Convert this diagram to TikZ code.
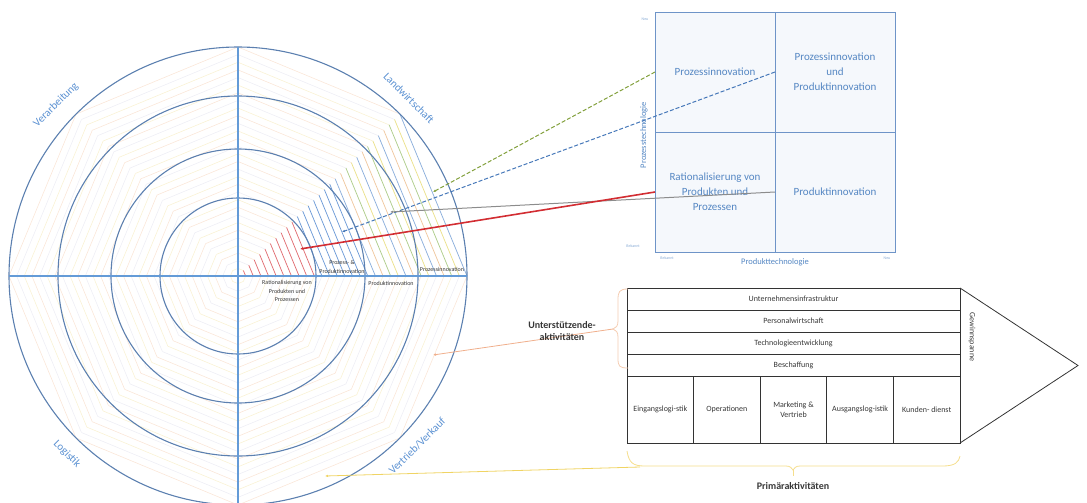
\documentclass[tikz,border=0pt]{standalone}
\usepackage{fontspec}
\setmainfont{Carlito}
\usetikzlibrary{arrows.meta}

\definecolor{ringblue}{RGB}{92,128,176}
\definecolor{axisblue}{RGB}{100,155,215}
\definecolor{labelblue}{RGB}{91,145,210}
\definecolor{matblue}{RGB}{110,148,200}
\definecolor{mattext}{RGB}{85,135,195}
\definecolor{matfill}{RGB}{245,248,252}
\definecolor{faint0}{RGB}{250,230,216}
\definecolor{faint1}{RGB}{249,242,212}
\definecolor{faint2}{RGB}{238,238,245}
\definecolor{hotred}{RGB}{225,110,115}
\definecolor{hotblue}{RGB}{110,155,215}
\definecolor{hot0}{RGB}{175,205,140}
\definecolor{hot1}{RGB}{235,225,140}
\definecolor{hot2}{RGB}{140,175,220}
\definecolor{hot3}{RGB}{240,200,160}
\definecolor{arrgreen}{RGB}{130,160,60}
\definecolor{arrblue}{RGB}{70,120,185}
\definecolor{arrgray}{RGB}{140,140,140}
\definecolor{arrred}{RGB}{210,45,50}
\definecolor{bracepeach}{RGB}{245,205,178}
\definecolor{braceyellow}{RGB}{245,222,140}
\definecolor{linkorange}{RGB}{240,175,140}
\definecolor{linkyellow}{RGB}{240,212,100}
\definecolor{chaintext}{RGB}{55,55,55}

\tikzset{
  ring/.style={ringblue, line width=1.1pt},
  axis/.style={axisblue, line width=1.2pt},
  sector/.style={text=labelblue, font=\fontsize{11}{13}\selectfont, inner sep=0pt},
  innerlabel/.style={text=chaintext, font=\fontsize{6}{8.5}\selectfont, align=center, inner sep=0pt},
  cell/.style={draw=matblue, fill=matfill, line width=0.9pt, minimum width=120pt, minimum height=120pt,
    inner sep=0pt, outer sep=0pt, text=mattext, align=center, font=\fontsize{11}{15}\selectfont},
  tiny/.style={text=mattext!70, font=\fontsize{4}{5}\selectfont, inner sep=0pt},
  axislabel/.style={text=mattext, font=\fontsize{8.5}{10}\selectfont, inner sep=0pt},
  link/.style={line width=1pt, -{Latex[length=3pt,width=2.6pt]}},
  supportrow/.style={draw=black!80, line width=0.8pt, minimum width=333pt, minimum height=22pt,
    inner sep=0pt, outer sep=0pt, text=chaintext, font=\fontsize{8}{10}\selectfont},
  primcell/.style={draw=black!80, line width=0.8pt, minimum width=66.6pt, minimum height=67pt,
    inner sep=0pt, outer sep=0pt, text=chaintext, align=center, font=\fontsize{8}{10}\selectfont},
  bracetitle/.style={text=chaintext, font=\bfseries\fontsize{10}{12}\selectfont, align=center, inner sep=0pt}
}

\begin{document}
\begin{tikzpicture}[x=1pt,y=1pt]
\useasboundingbox (0,0) rectangle (1087,-503);

% ---------- spider web ----------
\coordinate (C) at (238,-276);
\begin{scope}[shift={(238,-276)}]
  % faint concentric octagons
  \foreach \k in {1,...,30}{
    \pgfmathsetmacro\r{\k*229/30}
    \pgfmathtruncatemacro\m{mod(\k,3)}
    \foreach \a in {45,90,...,315}{
      \draw[faint\m, line width=0.6pt] (\a:\r) -- (\a+45:\r);
    }
  }
  % highlighted segment between 0 and 45 degrees
  \foreach \k in {1,...,30}{
    \pgfmathsetmacro\r{\k*229/30}
    \pgfmathtruncatemacro\m{mod(\k,4)}
    \ifnum\k<11 \def\hc{hotred}\else\ifnum\k<18 \def\hc{hotblue}\else\edef\hc{hot\m}\fi\fi
    \draw[\hc, line width=0.75pt] (0:\r) -- (45:\r);
  }
\end{scope}

\foreach \rad in {78,127,180,229}
  \draw[ring] (C) circle[radius=\rad];

\coordinate (axW) at (9,-276);
\coordinate (axE) at (467,-276);
\coordinate (axN) at (238,-47);
\coordinate (axS) at (238,-506);
\draw[axis] (axW) -- (axE);
\draw[axis] (axN) -- (axS);

% sector names
\node[sector, rotate=45]  (verarb) at (56,-105)  {Verarbeitung};
\node[sector, rotate=-45] (landw)  at (409,-98)  {Landwirtschaft};
\node[sector, rotate=-45] (logist) at (67,-454)  {Logistik};
\node[sector, rotate=45]  (vertr)  at (417,-446) {Vertrieb/Verkauf};

% ring labels
\node[innerlabel] (lrat)  at (287,-291) {Rationalisierung von\\Produkten und\\Prozessen};
\node[innerlabel] (lpp)   at (342,-267) {Prozess- \&\\Produktinnovation};
\node[innerlabel] (lprod) at (391,-283) {Produktinnovation};
\node[innerlabel] (lproz) at (442,-269) {Prozessinnovation};

% ---------- portfolio matrix ----------
\node[cell] (tl) at (715,-72)  {Prozessinnovation};
\node[cell] (tr) at (835,-72)  {Prozessinnovation\\und\\Produktinnovation};
\node[cell] (bl) at (715,-192) {Rationalisierung von\\Produkten und\\Prozessen};
\node[cell] (br) at (835,-192) {Produktinnovation};

\node[axislabel, rotate=90] (yax) at (644,-135) {Prozesstechnologie};
\node[axislabel] (xax) at (775,-262) {Produkttechnologie};
\node[tiny] (yhi) at (645,-19)  {Neu};
\node[tiny] (ylo) at (633,-246) {Bekannt};
\node[tiny] (xlo) at (667,-258) {Bekannt};
\node[tiny] (xhi) at (887,-258) {Neu};

% links from the matrix into the web
\coordinate (eG) at (433,-192);
\coordinate (eB) at (342,-232);
\coordinate (eK) at (390,-212);
\coordinate (eR) at (300,-249);
\draw[link, arrgreen, dash pattern=on 4pt off 2pt] (tl.west) -- (eG);
\draw[link, arrblue, dash pattern=on 4pt off 2pt] (tl.east) -- (eB);
\draw[link, arrgray] (bl.east) -- (eK);
\draw[link, arrred, line width=1.6pt] (bl.west) -- (eR);

% ---------- value chain ----------
\node[supportrow] (infra) at (793.5,-299) {Unternehmensinfrastruktur};
\node[supportrow] (pers)  at (793.5,-321) {Personalwirtschaft};
\node[supportrow] (techn) at (793.5,-343) {Technologieentwicklung};
\node[supportrow] (besch) at (793.5,-365) {Beschaffung};

\node[primcell] (p1) at (660.3,-409.5) {Eingangslogi-stik};
\node[primcell] (p2) at (726.9,-409.5) {Operationen};
\node[primcell] (p3) at (793.5,-409.5) {Marketing \&\\Vertrieb};
\node[primcell] (p4) at (860.1,-409.5) {Ausgangslog-istik};
\node[primcell] (p5) at (926.7,-409.5) {Kunden- dienst};

\coordinate (apex) at (1078,-365.5);
\draw[black!80, line width=0.8pt] (infra.north east) -- (apex) -- (p5.south east);
\node[text=chaintext, font=\fontsize{8}{10}\selectfont, rotate=-90, inner sep=0pt] (gew) at (972,-337) {Gewinnspanne};

% brace of the support activities
\coordinate (stip) at (613,-329);
\draw[bracepeach, line width=0.8pt]
  (628,-289) .. controls (619,-289) and (618,-292) .. (618,-300) -- (618,-321)
  .. controls (618,-326) and (616,-328) .. (stip)
  .. controls (616,-330) and (618,-332) .. (618,-337) -- (618,-358)
  .. controls (618,-366) and (619,-368) .. (628,-368);
\coordinate (eS) at (433,-355);
\draw[linkorange, line width=0.8pt, -{Latex[length=3pt,width=2.6pt]}] (stip) -- (eS);
\node[bracetitle] (stitle) at (562,-331) {Unterstützende-\\aktivitäten};

% brace of the primary activities
\coordinate (ptip) at (793,-470);
\draw[braceyellow, line width=0.8pt]
  (627,-451) .. controls (629,-463) and (633,-466) .. (645,-466) -- (786,-466)
  .. controls (790,-466) and (792,-468) .. (ptip)
  .. controls (794,-468) and (796,-466) .. (800,-466) -- (943,-466)
  .. controls (955,-466) and (959,-462) .. (960,-456);
\draw[braceyellow, line width=0.8pt] (ptip) -- (793,-476);
\coordinate (plink) at (640,-467);
\coordinate (eP) at (325,-476);
\draw[linkyellow, line width=0.8pt, -{Latex[length=3pt,width=2.6pt]}] (plink) -- (eP);
\node[bracetitle] (ptitle) at (793,-486) {Primäraktivitäten};

\end{tikzpicture}
\end{document}
